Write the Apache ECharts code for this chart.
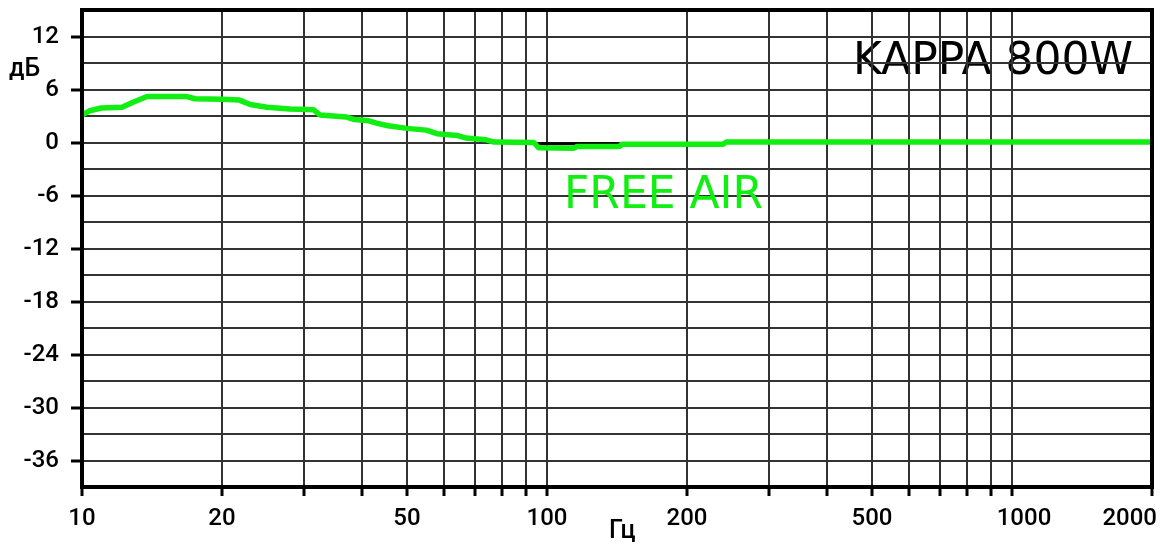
<!DOCTYPE html>
<html>
<head>
<meta charset="utf-8">
<script src="https://cdn.jsdelivr.net/npm/echarts/dist/echarts.min.js"></script>
<style>
  html, body { margin: 0; padding: 0; background: #fff; }
  #chart { width: 1168px; height: 545px; }
</style>
</head>
<body>
<div id="chart"></div>
<script>
// ---- data ----
const curveFreqs = [10, 10.4, 11, 12.2, 12.8, 13.8, 16.8, 17.5, 20, 21.8, 23, 25, 28, 31.5, 32.5, 37, 38.5, 41, 43, 45.5, 50, 55, 58, 64, 67, 74, 77, 93.7, 96, 114, 116, 143, 145, 239, 243, 2000];
const curveDb    = [3.1, 3.6, 3.9, 4.0, 4.5, 5.2, 5.2, 4.95, 4.9, 4.8, 4.3, 4.0, 3.8, 3.7, 3.1, 2.9, 2.6, 2.5, 2.2, 1.9, 1.6, 1.4, 1.0, 0.8, 0.5, 0.3, 0.05, 0.0, -0.6, -0.65, -0.45, -0.45, -0.2, -0.2, 0.05, 0.05];
const refFreqs = [95.6, 143];
const refDb    = [-0.15, -0.15];
const gridFreqs  = [10, 20, 30, 40, 50, 60, 70, 80, 90, 100, 200, 300, 400, 500, 600, 700, 800, 900, 1000, 2000];
const labelFreqs = [10, 20, 50, 100, 200, 500, 1000, 2000];
const yTickLabels = [12, 6, 0, -6, -12, -18, -24, -30, -36];
const Y_MIN = -39, Y_MAX = 15, Y_STEP = 3;
const X_MIN = 10, X_MAX = 2000;
const titleText = 'KAPPA 800W';
const curveName = 'FREE AIR';
const yUnit = 'дБ';
const xUnit = 'Гц';

// ---- chart ----
const tickFont = { fontFamily: 'Roboto', fontWeight: 500, fontSize: 24 };

function renderVGrid(params, api) {
  const f = api.value(0);
  if (f === X_MIN || f === X_MAX) return { type: 'group', children: [] };
  const top = api.coord([f, Y_MAX]);
  const bot = api.coord([f, Y_MIN]);
  const x = Math.round(top[0]);
  return {
    type: 'line',
    shape: { x1: x, y1: top[1], x2: x, y2: bot[1] },
    style: { stroke: '#333', lineWidth: 2 }
  };
}

function renderFrame(params, api) {
  const kind = api.value(2);
  const children = [];
  if (kind === 0) {
    const f = api.value(0);
    const bot = api.coord([f, Y_MIN]);
    const x = Math.round(bot[0]);
    children.push({ type: 'line', shape: { x1: x, y1: bot[1], x2: x, y2: bot[1] + 9 }, style: { stroke: '#000', lineWidth: 3 } });
    if (labelFreqs.indexOf(f) >= 0) {
      let align = 'center', lx = x;
      if (f === X_MAX) { align = 'right'; lx = x + 5; }
      else if (f === 1000) { lx = x + 12; }
      children.push({ type: 'text', x: lx, y: bot[1] + 32, style: Object.assign({ text: String(f), fill: '#000', align: align, verticalAlign: 'middle' }, tickFont) });
    }
  } else if (kind === 1) {
    const v = api.value(1);
    const p = api.coord([X_MIN, v]);
    const y = Math.round(p[1]);
    children.push({ type: 'line', shape: { x1: p[0] - 11, y1: y, x2: p[0], y2: y }, style: { stroke: '#000', lineWidth: 3 } });
  } else {
    const tl = api.coord([X_MIN, Y_MAX]);
    const br = api.coord([X_MAX, Y_MIN]);
    children.push({ type: 'rect', shape: { x: tl[0], y: tl[1], width: br[0] - tl[0], height: br[1] - tl[1] }, style: { stroke: '#000', lineWidth: 4, fill: null } });
  }
  return { type: 'group', children: children };
}

const frameData = []
  .concat(gridFreqs.map(f => [f, Y_MIN, 0]))
  .concat(yTickLabels.map(v => [X_MIN, v, 1]))
  .concat([[X_MIN, Y_MIN, 2]]);

const chart = echarts.init(document.getElementById('chart'), null, { renderer: 'canvas' });
chart.setOption({
  animation: false,
  backgroundColor: '#fff',
  grid: { left: 82, right: 16, top: 10, bottom: 58, containLabel: false },
  xAxis: {
    type: 'log', logBase: 10, min: X_MIN, max: X_MAX,
    axisLine: { show: false }, axisTick: { show: false }, axisLabel: { show: false }, splitLine: { show: false }
  },
  yAxis: {
    type: 'value', min: Y_MIN, max: Y_MAX, interval: Y_STEP,
    axisLine: { show: false }, axisTick: { show: false },
    axisLabel: Object.assign({
      color: '#000', margin: 23,
      formatter: v => (yTickLabels.indexOf(v) >= 0 ? String(v) : '')
    }, tickFont),
    splitLine: { show: true, lineStyle: { color: '#333', width: 2 } }
  },
  graphic: [
    { type: 'text', left: 853, top: 41, z: 0, style: { text: titleText, fill: '#000', fontFamily: 'DejaVu Sans', fontSize: 44 } },
    { type: 'text', left: 564, top: 175, z: 100, style: { text: curveName, fill: '#11ee11', fontFamily: 'DejaVu Sans', fontSize: 44 } },
    { type: 'text', left: 9, top: 57, z: 100, style: { text: yUnit, fill: '#000', fontFamily: 'Roboto', fontWeight: 500, fontSize: 25 } },
    { type: 'text', left: 609, top: 519, z: 100, style: { text: xUnit, fill: '#000', fontFamily: 'Roboto', fontWeight: 500, fontSize: 25 } }
  ],
  series: [
    { type: 'custom', z: 1, clip: false, silent: true, renderItem: renderVGrid, data: gridFreqs.map(f => [f, 0]), encode: { x: 0, y: 1 } },
    { type: 'line', z: 2, symbol: 'none', data: refFreqs.map((f, i) => [f, refDb[i]]), lineStyle: { color: '#000', width: 3 } },
    { type: 'line', z: 3, name: curveName, symbol: 'none', data: curveFreqs.map((f, i) => [f, curveDb[i]]), lineStyle: { color: '#11ee11', width: 5.5 } },
    { type: 'custom', z: 5, clip: false, silent: true, renderItem: renderFrame, data: frameData, encode: { x: 0, y: 1 } }
  ]
});
</script>
</body>
</html>
